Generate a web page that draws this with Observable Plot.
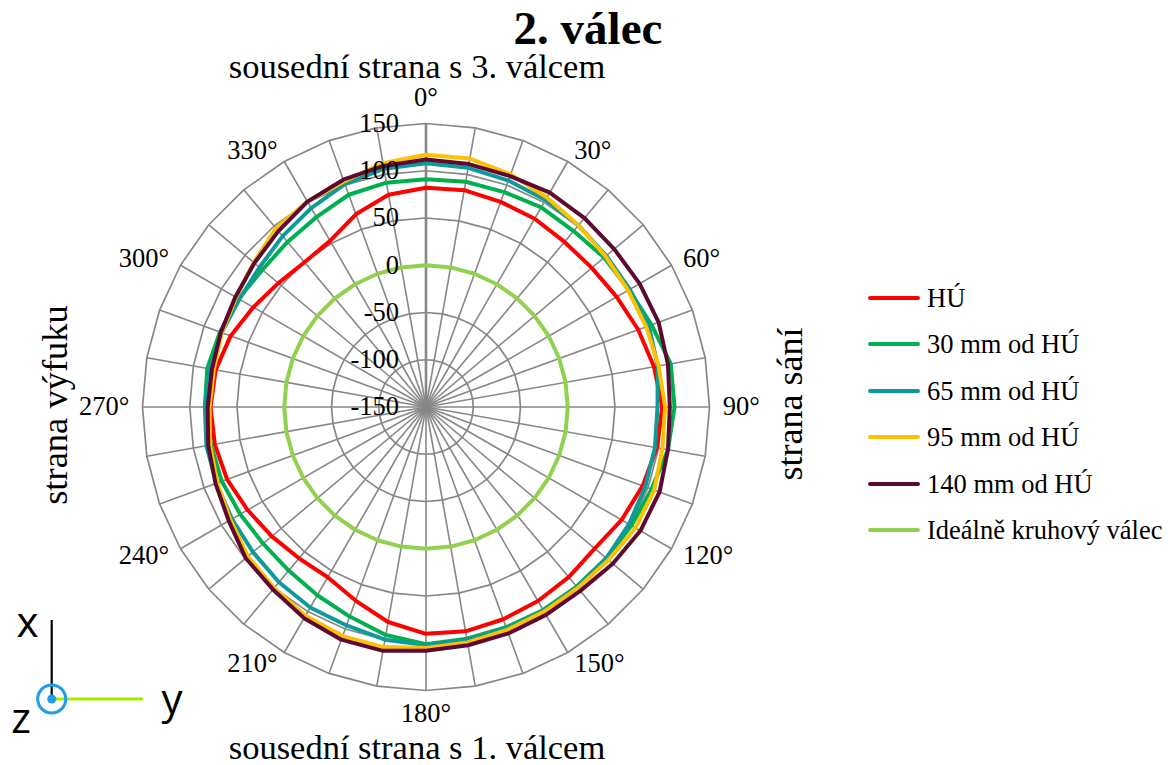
<!DOCTYPE html>
<html>
<head>
<meta charset="utf-8">
<script src="https://cdn.jsdelivr.net/npm/d3@7"></script>
<script src="https://cdn.jsdelivr.net/npm/@observablehq/plot@0.6"></script>
<style>
  html, body { margin: 0; padding: 0; background: #fff; }
  #wrap { position: relative; width: 1168px; height: 765px; overflow: hidden;
          font-family: "Liberation Serif", "Times New Roman", serif; color: #000; }
  .t { position: absolute; white-space: nowrap; line-height: 0.8; transform: translate(-50%, -50%); }
  .rot { transform: translate(-50%, -50%) rotate(-90deg); }
  #chart { position: absolute; left: 75px; top: 78px; }
  #legend { position: absolute; left: 868px; top: 275px; }
  .row { position: absolute; left: 0; height: 46px; white-space: nowrap; }
  .sw { position: absolute; left: 0; width: 52px; height: 4px; border-radius: 2px; }
  .lab { position: absolute; left: 59px; font-size: 26.5px; line-height: 1; transform: translateY(-50%); }
  #axes { position: absolute; left: 0; top: 570px; }
</style>
</head>
<body>
<div id="wrap">
  <div class="t" style="left:588px;top:29px;font-size:47px;font-weight:bold;">2. válec</div>
  <div class="t" style="left:417px;top:67px;font-size:34.5px;">sousední strana s 3. válcem</div>
  <div class="t" style="left:417px;top:748px;font-size:34.5px;">sousední strana s 1. válcem</div>
  <div class="t rot" style="left:55px;top:405px;font-size:36.5px;">strana výfuku</div>
  <div class="t rot" style="left:790px;top:404px;font-size:36px;">strana sání</div>
  <div id="chart"></div>
  <div id="legend"></div>
  <svg id="axes" width="220" height="180" viewBox="0 570 220 180">
    <line x1="51.7" y1="620" x2="51.7" y2="699" stroke="#000" stroke-width="2.2"/>
    <line x1="51.7" y1="699" x2="143" y2="699" stroke="#a4ec00" stroke-width="3"/>
    <circle cx="51.7" cy="699" r="14" fill="none" stroke="#1e9cf0" stroke-width="3"/>
    <circle cx="51.7" cy="699" r="4.5" fill="#1e9cf0"/>
    <text x="27.5" y="620" font-family="Open Sans, DejaVu Sans, sans-serif" font-size="42" text-anchor="middle" dominant-baseline="central">x</text>
    <text x="172" y="697" font-family="Open Sans, DejaVu Sans, sans-serif" font-size="42" text-anchor="middle" dominant-baseline="central">y</text>
    <text x="21" y="716" font-family="Open Sans, DejaVu Sans, sans-serif" font-size="42" text-anchor="middle" dominant-baseline="central">z</text>
  </svg>
</div>
<script>
// ---- categories (angle in degrees, clockwise from top) ----
const angles = [0,10,20,30,40,50,60,70,80,90,100,110,120,130,140,150,160,170,
                180,190,200,210,220,230,240,250,260,270,280,290,300,310,320,330,340,350];
const angleTicks = [0,30,60,90,120,150,180,210,240,270,300,330];
const radialTicks = [-150,-100,-50,0,50,100,150];

// ---- series ----
const seriesNames = ["HÚ","30 mm od HÚ","65 mm od HÚ","95 mm od HÚ","140 mm od HÚ","Ideálně kruhový válec"];
const seriesColors = ["#ff0000","#00b050","#0f9a9a","#ffc000","#5c0a32","#92d050"];

const hu    = [82,83,81,80,78,79,83,89,95,100,98,94,89,83,85,87,89,91,
               90,81,68,58,59,63,68,74,77,78,76,70,61,54,50,53,67,78];
const mm30  = [91,92,92,94,93,96,98,104,113,113,110,104,101,99,98,98,98,99,
               101,95,86,80,76,75,77,80,81,84,85,82,79,76,78,82,89,91];
const mm65  = [108,107,105,103,101,99,99,101,99,95,96,97,98,99,99,99,99,100,
               102,100,96,95,92,89,87,86,86,84,82,80,78,80,86,93,101,106];
const mm95  = [117,117,112,106,101,98,97,98,100,103,104,107,106,102,100,100,101,103,
               105,108,108,105,100,96,89,85,82,79,78,80,82,88,97,101,104,112];
const mm140 = [112,111,110,112,111,110,111,112,110,108,110,113,112,108,104,104,105,106,
               108,112,112,108,102,99,91,87,84,81,80,81,83,87,93,101,106,109];
const ideal = [0,0,0,0,0,0,0,0,0,0,0,0,0,0,0,0,0,0,
               0,0,0,0,0,0,0,0,0,0,0,0,0,0,0,0,0,0];

const seriesValues = [hu, mm30, mm65, mm95, mm140, ideal];

// table for Plot
const rows = seriesValues.flatMap((vals, i) =>
  angles.map((a, j) => ({series: seriesNames[i], angle: a, value: vals[j]})));
const gridRows = radialTicks.filter(v => v > radialTicks[0])
  .flatMap(v => angles.map(a => ({ring: v, angle: a})));

// polar mapping onto an azimuthal projection centred on the pole
const rMin = radialTicks[0], rMax = radialTicks[radialTicks.length - 1];
const lat = v => 90 - (v - rMin) / (rMax - rMin) * 90;
const lon = a => 180 - a;
const sideOff = 14, topOff = 18, bottomOff = 13;   // label distance beyond the outer ring (axis units)
const fs = 26.5;

const chart = Plot.plot({
  width: 700,
  height: 656,
  marginLeft: 67,
  marginTop: 45,
  marginRight: 66,
  marginBottom: 44,
  style: {fontFamily: "Liberation Serif, Times New Roman, serif", background: "transparent", overflow: "visible"},
  projection: {
    type: "azimuthal-equidistant",
    rotate: [0, -90],
    domain: d3.geoCircle().center([0, 90]).radius(90)(),
    clip: false,
    inset: 0
  },
  color: {domain: seriesNames, range: seriesColors},
  marks: [
    Plot.line(gridRows, {x: d => lon(d.angle), y: d => lat(d.ring), z: "ring",
      curve: "linear-closed", stroke: "#878787", strokeWidth: 1.7}),
    Plot.link(angles, {x1: a => lon(a), y1: () => lat(rMin), x2: a => lon(a), y2: () => lat(rMax),
      curve: "linear", stroke: "#878787", strokeWidth: a => a === 0 ? 2.6 : 1.6}),
    Plot.line(rows, {x: d => lon(d.angle), y: d => lat(d.value), z: "series", stroke: "series",
      curve: "linear-closed", strokeWidth: 4, strokeLinejoin: "round"}),
    Plot.text(radialTicks, {x: () => lon(0), y: v => lat(v), text: v => String(v),
      textAnchor: "end", dx: -27, fontSize: fs, fill: "#000"}),
    Plot.text(angleTicks.filter(a => a === 0), {x: a => lon(a), y: () => lat(rMax + topOff),
      text: a => a + "°", lineAnchor: "bottom", fontSize: fs, fill: "#000"}),
    Plot.text(angleTicks.filter(a => a === 180), {x: a => lon(a), y: () => lat(rMax + bottomOff),
      text: a => a + "°", lineAnchor: "top", fontSize: fs, fill: "#000"}),
    Plot.text(angleTicks.filter(a => a > 0 && a < 180), {x: a => lon(a), y: () => lat(rMax + sideOff),
      text: a => a + "°", textAnchor: "start", fontSize: fs, fill: "#000"}),
    Plot.text(angleTicks.filter(a => a > 180), {x: a => lon(a), y: () => lat(rMax + sideOff),
      text: a => a + "°", textAnchor: "end", fontSize: fs, fill: "#000"})
  ]
});
document.getElementById("chart").appendChild(chart);

// legend
const legend = document.getElementById("legend");
seriesNames.forEach((name, i) => {
  const row = document.createElement("div");
  row.className = "row";
  row.style.top = (23 + i * 46.4) + "px";
  const sw = document.createElement("div");
  sw.className = "sw";
  sw.style.background = seriesColors[i];
  sw.style.top = "-2px";
  const lab = document.createElement("div");
  lab.className = "lab";
  lab.textContent = name;
  row.appendChild(sw);
  row.appendChild(lab);
  legend.appendChild(row);
});
</script>
</body>
</html>
